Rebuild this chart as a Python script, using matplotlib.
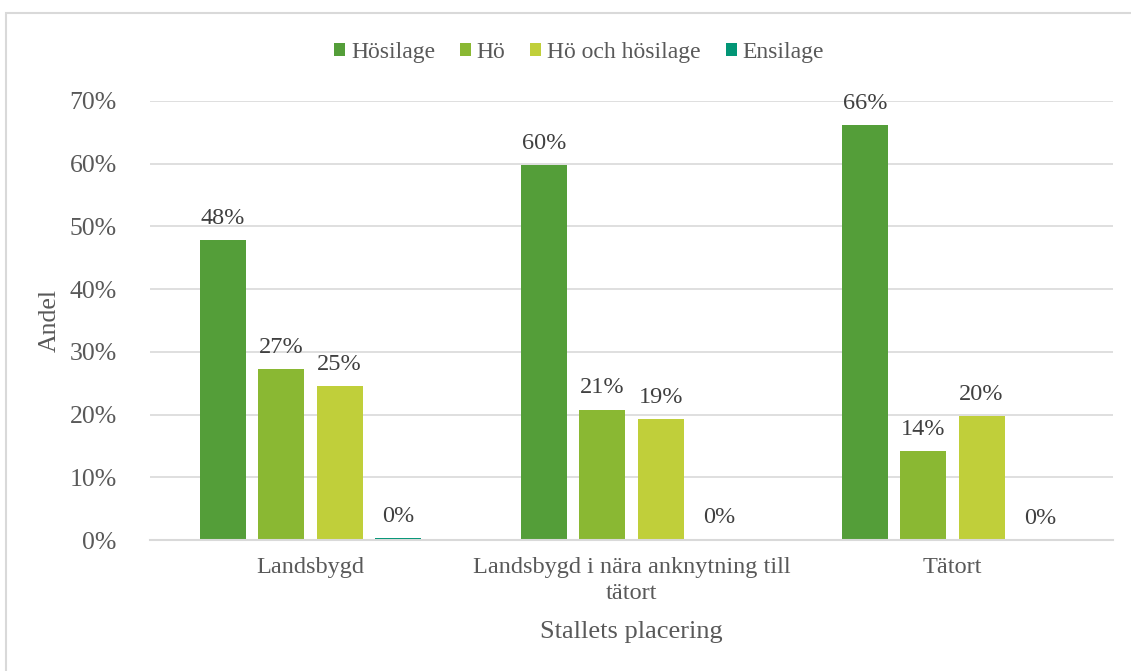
import matplotlib.pyplot as plt
import numpy as np
from matplotlib.patches import Patch, Rectangle

plt.rcParams["font.family"] = "serif"
plt.rcParams["font.serif"] = ["Liberation Serif"]

categories = ["Landsbygd", "Landsbygd i nära anknytning till\ntätort", "Tätort"]
series = ["Hösilage", "Hö", "Hö och hösilage", "Ensilage"]
hosilage = [0.478, 0.598, 0.662]
ho = [0.273, 0.208, 0.142]
ho_och_hosilage = [0.246, 0.193, 0.197]
ensilage = [0.003, 0.001, 0.0]
colors = ["#549E39", "#8AB833", "#C0CF3A", "#029676"]

fig = plt.figure(figsize=(11.31, 6.71), dpi=100)
ax = fig.add_axes([0.1326, 0.1952, 0.8514, 0.6543])

x = np.arange(len(categories))
step = 0.182
width = 0.143
for i, (vals, col) in enumerate(zip([hosilage, ho, ho_och_hosilage, ensilage], colors)):
    pos = x + (i - 1.5) * step
    ax.bar(pos, vals, width=width, color=col, zorder=3)
    for px, v in zip(pos, vals):
        ax.annotate(f"{v:.0%}", (px, v), xytext=(0, 8), textcoords="offset points",
                    ha="center", va="bottom", fontsize=17.5, color="#404040")

ax.set_xlim(-0.5, 2.5)
ax.set_ylim(0, 0.7)
ticks = np.arange(0, 0.71, 0.1)
ax.set_yticks(ticks)
ax.set_yticklabels([f"{t:.0%}" for t in ticks])
ax.set_xticks(x)
ax.set_xticklabels(categories, linespacing=1.35)
ax.tick_params(axis="both", length=0, labelsize=17.5, labelcolor="#595959")
ax.tick_params(axis="y", pad=24, labelsize=18.5)
ax.tick_params(axis="x", pad=12)
ax.grid(axis="y", color="#D9D9D9", linewidth=1.2, zorder=0)
for side in ["top", "right", "left"]:
    ax.spines[side].set_visible(False)
ax.spines["bottom"].set_color("#D9D9D9")
ax.spines["bottom"].set_linewidth(1.5)
ax.spines["bottom"].set_zorder(4)

ax.set_xlabel("Stallets placering", fontsize=19, color="#595959", labelpad=12)
ax.set_ylabel("Andel", fontsize=18.5, color="#595959", labelpad=6)

handles = [Patch(facecolor=c, label=s) for c, s in zip(colors, series)]
fig.legend(handles=handles, loc="center", bbox_to_anchor=(0.512, 0.922), ncol=4,
           frameon=False, handlelength=0.47, handleheight=0.47,
           handletextpad=0.25, columnspacing=1.05, labelcolor="#595959",
           prop={"family": "serif", "size": 17})

# light frame around the whole chart
fig.patches.append(Rectangle((6 / 1131, -0.05), 1.2, 1 - 13 / 671 + 0.05,
                             transform=fig.transFigure, fill=False,
                             edgecolor="#D9D9D9", linewidth=1.5))

fig.savefig("out.png", dpi=100)
